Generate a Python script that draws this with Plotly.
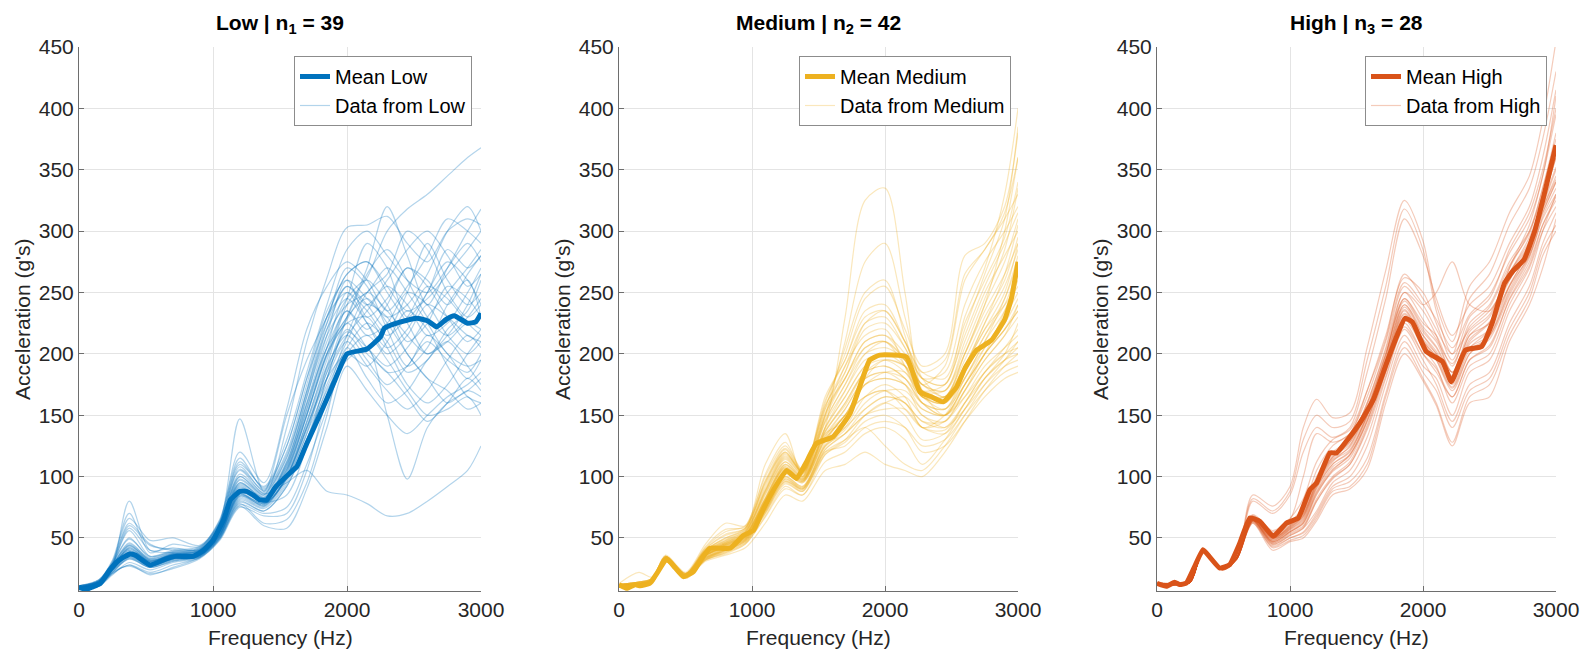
import plotly.graph_objects as go

# ---------------- Low group (n1 = 39) ----------------
low_freq = [0, 150, 250, 375, 530, 700, 900, 1050, 1200, 1380, 1550,
            1700, 1850, 2000, 2150, 2300, 2450, 2600, 2750, 2900, 3000]
low_curves = [
    [9, 13, 24, 36, 27, 33, 36, 52, 85, 78, 98, 135, 190, 240, 262, 300, 318, 330, 345, 360, 368],
    [10, 14, 28, 58, 40, 38, 40, 60, 100, 85, 140, 210, 262, 303, 305, 312, 290, 275, 300, 310, 305],
    [8, 12, 22, 34, 26, 31, 35, 50, 80, 72, 92, 130, 180, 230, 270, 320, 280, 240, 270, 300, 318],
    [11, 15, 30, 62, 45, 40, 42, 65, 115, 90, 125, 180, 225, 255, 240, 220, 250, 290, 260, 240, 250],
    [9, 12, 25, 40, 30, 35, 38, 55, 90, 80, 105, 150, 200, 245, 290, 270, 230, 250, 285, 270, 280],
    [10, 13, 27, 80, 40, 42, 40, 58, 95, 82, 110, 155, 205, 250, 225, 200, 215, 240, 230, 215, 210],
    [8, 11, 20, 30, 24, 30, 34, 48, 75, 68, 70, 105, 165, 215, 250, 265, 300, 285, 250, 230, 240],
    [10, 16, 32, 70, 38, 45, 43, 62, 147, 88, 150, 195, 230, 265, 275, 250, 225, 200, 215, 240, 265],
    [9, 12, 24, 35, 28, 34, 36, 53, 86, 76, 100, 140, 185, 225, 205, 185, 190, 215, 200, 180, 195],
    [11, 15, 29, 56, 35, 39, 41, 63, 110, 92, 130, 185, 240, 285, 300, 280, 260, 250, 270, 290, 275],
    [8, 11, 21, 28, 20, 26, 34, 50, 78, 62, 65, 95, 150, 205, 180, 160, 170, 195, 210, 190, 175],
    [10, 14, 26, 42, 31, 37, 39, 57, 94, 83, 108, 160, 215, 260, 245, 230, 240, 265, 300, 320, 300],
    [9, 13, 25, 38, 29, 34, 37, 54, 88, 79, 102, 145, 195, 235, 220, 240, 270, 255, 230, 210, 220],
    [10, 15, 28, 44, 32, 36, 40, 60, 105, 86, 95, 105, 88, 85, 78, 68, 70, 80, 92, 105, 125],
    [8, 12, 23, 33, 26, 32, 35, 51, 82, 75, 96, 135, 175, 210, 240, 230, 200, 180, 160, 170, 165],
    [11, 16, 31, 66, 48, 50, 44, 64, 120, 95, 155, 220, 255, 275, 260, 235, 255, 280, 310, 300, 290],
    [9, 12, 24, 36, 28, 33, 36, 52, 84, 77, 100, 140, 180, 200, 190, 210, 235, 220, 190, 165, 160],
    [10, 14, 27, 41, 31, 36, 39, 57, 92, 80, 112, 160, 205, 230, 265, 285, 260, 230, 215, 230, 245],
    [8, 11, 22, 27, 21, 25, 33, 49, 76, 60, 58, 90, 140, 190, 170, 150, 135, 150, 165, 175, 185],
    [10, 15, 29, 50, 34, 39, 41, 61, 108, 88, 118, 170, 225, 270, 255, 220, 190, 205, 240, 260, 230],
    [9, 13, 25, 39, 29, 35, 37, 55, 89, 80, 104, 150, 200, 225, 230, 205, 175, 160, 175, 200, 215],
    [10, 14, 26, 43, 32, 37, 39, 58, 97, 84, 110, 165, 220, 255, 240, 260, 285, 300, 280, 255, 265],
    [9, 12, 23, 34, 27, 32, 35, 51, 81, 74, 94, 130, 170, 195, 205, 150, 98, 140, 160, 170, 180],
    [11, 16, 30, 60, 44, 41, 43, 63, 112, 91, 125, 180, 235, 260, 230, 245, 270, 260, 240, 265, 280],
    [9, 13, 24, 37, 28, 34, 36, 53, 86, 78, 100, 145, 190, 215, 195, 175, 190, 210, 195, 185, 200],
    [10, 14, 27, 40, 30, 36, 38, 56, 91, 82, 106, 155, 210, 245, 260, 240, 210, 225, 255, 245, 230],
    [8, 11, 21, 28, 22, 28, 34, 49, 77, 70, 75, 110, 155, 200, 215, 195, 170, 150, 155, 165, 150],
    [10, 15, 28, 46, 33, 38, 40, 59, 102, 87, 115, 170, 230, 265, 275, 255, 235, 245, 265, 285, 300],
    [9, 12, 24, 35, 27, 33, 36, 52, 83, 76, 98, 138, 180, 210, 190, 170, 155, 170, 195, 215, 205],
    [10, 14, 26, 42, 31, 37, 39, 57, 95, 83, 108, 158, 205, 235, 215, 225, 250, 240, 215, 200, 210],
    [9, 13, 25, 38, 29, 34, 37, 54, 87, 79, 85, 125, 180, 220, 200, 185, 165, 145, 160, 180, 170],
    [11, 15, 29, 49, 35, 40, 42, 62, 106, 89, 120, 175, 230, 250, 235, 215, 230, 255, 245, 225, 215],
    [8, 12, 22, 33, 26, 31, 35, 50, 79, 72, 92, 128, 172, 205, 225, 210, 185, 195, 220, 235, 260],
    [10, 14, 27, 44, 32, 37, 40, 58, 98, 85, 112, 165, 215, 240, 250, 270, 250, 225, 200, 190, 195],
    [9, 13, 25, 37, 28, 34, 37, 53, 85, 78, 100, 143, 188, 218, 205, 190, 205, 230, 250, 270, 285],
    [10, 14, 26, 41, 31, 36, 38, 56, 93, 81, 106, 152, 200, 230, 245, 225, 200, 180, 170, 155, 160],
    [9, 12, 24, 36, 28, 33, 36, 52, 84, 77, 99, 140, 185, 215, 235, 255, 240, 215, 225, 250, 270],
    [11, 15, 28, 45, 33, 38, 41, 60, 100, 86, 116, 168, 220, 245, 225, 205, 220, 250, 275, 260, 240],
    [9, 13, 25, 39, 29, 35, 37, 54, 88, 80, 103, 150, 198, 228, 250, 235, 215, 200, 210, 225, 220],
]
low_mean_freq = [0, 50, 100, 160, 230, 300, 380, 420, 530, 650, 720, 850, 930, 1000,
                 1080, 1130, 1200, 1250, 1300, 1350, 1400, 1470, 1575, 1625, 1700, 1800,
                 1900, 2000, 2150, 2250, 2280, 2400, 2520, 2600, 2670, 2740, 2800, 2900,
                 2960, 3000]
low_mean = [10, 8, 10, 13, 24, 32, 37, 36, 28, 33, 35, 35, 40, 48,
            65, 81, 88, 88, 85, 81, 81, 92, 103, 108, 127, 151,
            176, 200, 204, 214, 221, 226, 229, 227, 222, 228, 231, 225,
            226, 233]

# ---------------- Medium group (n2 = 42) ----------------
med_freq = [0, 150, 250, 350, 500, 650, 800, 950, 1100, 1250, 1380,
            1550, 1700, 1850, 2000, 2150, 2280, 2450, 2600, 2750, 2900, 3000]
med_curves = [
    [11, 12, 15, 33, 19, 35, 44, 52, 80, 108, 98, 140, 230, 325, 335, 250, 170, 150, 170, 195, 215, 240],
    [12, 13, 16, 34, 20, 38, 47, 55, 88, 115, 102, 150, 210, 275, 290, 230, 180, 165, 200, 240, 300, 360],
    [10, 11, 14, 32, 18, 33, 40, 48, 72, 98, 90, 125, 140, 165, 175, 165, 140, 150, 180, 210, 245, 280],
    [12, 14, 17, 35, 21, 40, 50, 58, 95, 122, 104, 155, 205, 250, 260, 215, 175, 190, 260, 285, 310, 330],
    [11, 12, 15, 33, 19, 36, 42, 50, 76, 102, 95, 130, 150, 175, 185, 185, 165, 155, 175, 200, 220, 235],
    [13, 22, 18, 36, 22, 45, 62, 60, 110, 135, 100, 165, 195, 235, 240, 210, 180, 175, 230, 270, 330, 400],
    [10, 11, 13, 31, 18, 32, 38, 45, 68, 92, 85, 118, 130, 150, 160, 150, 130, 135, 160, 185, 205, 220],
    [11, 12, 15, 33, 19, 37, 45, 53, 82, 110, 100, 140, 170, 200, 210, 195, 165, 165, 195, 230, 260, 295],
    [12, 13, 16, 34, 20, 39, 48, 56, 90, 118, 105, 150, 190, 215, 220, 190, 160, 150, 175, 200, 235, 265],
    [10, 11, 14, 32, 18, 34, 41, 49, 74, 100, 92, 128, 150, 165, 170, 160, 145, 140, 160, 180, 195, 205],
    [11, 13, 16, 33, 19, 36, 44, 52, 82, 108, 97, 135, 145, 180, 195, 190, 165, 165, 190, 220, 250, 290],
    [12, 14, 17, 35, 21, 42, 55, 60, 100, 125, 106, 160, 200, 245, 255, 220, 190, 200, 280, 290, 320, 380],
    [10, 11, 13, 31, 17, 31, 36, 42, 62, 85, 80, 105, 110, 120, 110, 105, 100, 120, 145, 170, 190, 200],
    [11, 12, 15, 33, 19, 36, 43, 51, 78, 104, 96, 132, 155, 180, 185, 175, 150, 145, 170, 195, 215, 230],
    [12, 13, 16, 34, 20, 38, 46, 54, 86, 112, 100, 145, 175, 200, 205, 195, 170, 170, 205, 245, 285, 335],
    [10, 12, 14, 32, 18, 34, 40, 48, 72, 96, 90, 122, 135, 150, 160, 165, 150, 140, 155, 175, 190, 195],
    [11, 12, 15, 33, 19, 36, 44, 52, 80, 106, 98, 136, 160, 185, 190, 180, 160, 150, 175, 205, 230, 250],
    [12, 14, 17, 35, 21, 41, 52, 58, 96, 120, 104, 158, 185, 220, 225, 205, 180, 185, 240, 275, 300, 320],
    [10, 11, 14, 31, 18, 32, 38, 46, 70, 94, 88, 120, 125, 140, 145, 140, 125, 130, 150, 170, 185, 190],
    [11, 13, 15, 33, 19, 37, 45, 53, 83, 110, 99, 140, 165, 190, 200, 195, 170, 160, 185, 215, 240, 270],
    [12, 13, 16, 34, 20, 39, 47, 55, 88, 116, 103, 148, 180, 205, 210, 190, 165, 160, 190, 225, 265, 305],
    [10, 11, 13, 32, 18, 33, 39, 47, 70, 95, 88, 120, 130, 140, 125, 110, 105, 125, 150, 175, 195, 210],
    [11, 12, 15, 33, 19, 35, 42, 50, 77, 103, 95, 130, 150, 175, 180, 175, 160, 155, 180, 205, 225, 245],
    [12, 14, 17, 35, 21, 43, 57, 59, 102, 128, 104, 162, 195, 230, 235, 210, 185, 195, 265, 285, 315, 360],
    [10, 12, 14, 32, 18, 34, 41, 49, 75, 100, 92, 126, 140, 155, 165, 160, 145, 145, 165, 190, 205, 215],
    [11, 12, 15, 33, 19, 36, 43, 51, 79, 105, 97, 134, 155, 180, 185, 180, 165, 160, 180, 210, 235, 260],
    [12, 13, 16, 34, 20, 38, 46, 54, 85, 112, 101, 144, 170, 195, 200, 190, 170, 175, 215, 255, 290, 315],
    [10, 11, 14, 31, 18, 32, 39, 46, 71, 96, 89, 118, 128, 145, 150, 140, 120, 125, 145, 165, 180, 185],
    [11, 13, 15, 33, 19, 37, 45, 52, 81, 107, 98, 137, 160, 185, 190, 180, 160, 155, 185, 215, 245, 275],
    [12, 14, 17, 35, 21, 40, 50, 57, 94, 120, 103, 155, 180, 210, 215, 200, 175, 170, 210, 250, 280, 300],
    [10, 11, 14, 32, 18, 33, 40, 48, 73, 98, 91, 124, 138, 160, 170, 170, 155, 150, 165, 185, 200, 210],
    [11, 12, 15, 33, 19, 36, 43, 51, 79, 104, 96, 133, 150, 165, 170, 155, 140, 145, 170, 200, 220, 240],
    [12, 13, 16, 34, 20, 39, 48, 56, 89, 117, 104, 150, 185, 225, 235, 210, 185, 180, 225, 260, 295, 340],
    [10, 12, 14, 32, 18, 34, 41, 49, 74, 99, 91, 125, 135, 150, 155, 155, 140, 135, 155, 180, 200, 225],
    [11, 12, 15, 33, 19, 36, 44, 52, 81, 107, 97, 137, 158, 185, 195, 190, 175, 165, 190, 220, 240, 255],
    [12, 14, 17, 35, 21, 41, 53, 58, 97, 123, 105, 157, 190, 225, 230, 205, 180, 175, 220, 265, 310, 385],
    [10, 11, 13, 31, 17, 32, 37, 45, 67, 90, 85, 112, 120, 135, 140, 130, 110, 130, 155, 180, 195, 200],
    [11, 13, 15, 33, 19, 37, 45, 53, 82, 109, 99, 139, 165, 190, 195, 185, 165, 160, 190, 225, 255, 285],
    [12, 13, 16, 34, 20, 38, 46, 55, 87, 114, 102, 146, 175, 205, 210, 195, 175, 170, 200, 235, 265, 290],
    [10, 11, 14, 32, 18, 33, 40, 47, 72, 97, 90, 122, 135, 155, 165, 160, 140, 138, 160, 185, 200, 205],
    [11, 12, 15, 33, 19, 35, 42, 50, 78, 104, 96, 131, 150, 175, 180, 175, 155, 150, 175, 200, 220, 235],
    [12, 14, 16, 34, 20, 40, 49, 57, 92, 119, 103, 152, 180, 210, 215, 195, 170, 165, 200, 240, 275, 310],
]
med_mean_freq = [0, 60, 120, 160, 230, 290, 358, 420, 484, 560, 620, 684, 835, 935,
                 1010, 1070, 1135, 1200, 1260, 1335, 1400, 1485, 1610, 1735, 1800, 1885,
                 1960, 2160, 2263, 2350, 2437, 2538, 2600, 2688, 2800, 2900, 2950, 3000]
med_mean = [12, 9, 12, 11, 13, 22, 33, 26, 18.5, 22.6, 33, 41.6, 41.6, 52,
            56, 70, 84, 96, 105, 98.5, 110, 127, 132.5, 151, 170, 195,
            199, 197.6, 169, 165, 161, 173, 188, 203, 211, 228, 245, 275]

# ---------------- High group (n3 = 28) ----------------
high_freq = [0, 150, 250, 350, 490, 600, 720, 870, 1000, 1100, 1200, 1320, 1450,
             1580, 1720, 1860, 2000, 2100, 2220, 2350, 2500, 2650, 2800, 2900, 3000]
high_curves = [
    [12, 12, 14, 40, 25, 34, 85, 76, 92, 140, 163, 148, 152, 205, 268, 325, 292, 240, 210, 255, 275, 315, 345, 390, 455],
    [13, 13, 15, 41, 26, 35, 82, 72, 88, 130, 150, 140, 145, 195, 255, 318, 285, 235, 200, 245, 265, 305, 335, 375, 430],
    [12, 12, 14, 39, 25, 33, 80, 70, 85, 120, 140, 132, 140, 185, 245, 310, 280, 245, 215, 240, 255, 290, 320, 360, 415],
    [13, 13, 14, 40, 25, 34, 68, 55, 65, 100, 135, 128, 135, 170, 215, 262, 250, 225, 195, 230, 245, 285, 315, 350, 400],
    [12, 12, 14, 39, 24, 33, 66, 52, 62, 72, 100, 120, 130, 160, 205, 255, 240, 250, 275, 240, 235, 270, 300, 335, 380],
    [13, 13, 15, 40, 25, 34, 67, 50, 60, 70, 95, 115, 128, 155, 200, 245, 225, 215, 190, 225, 240, 275, 300, 330, 370],
    [12, 12, 14, 39, 25, 33, 65, 48, 57, 65, 90, 110, 120, 150, 195, 240, 215, 200, 180, 215, 225, 265, 295, 325, 360],
    [13, 13, 14, 40, 25, 34, 66, 50, 58, 67, 92, 112, 125, 155, 198, 250, 235, 215, 185, 205, 220, 270, 305, 345, 395],
    [12, 12, 14, 39, 24, 33, 64, 47, 55, 62, 85, 105, 118, 145, 190, 232, 210, 195, 170, 200, 215, 255, 285, 320, 350],
    [13, 13, 15, 40, 25, 34, 68, 53, 63, 75, 105, 125, 135, 165, 210, 258, 240, 220, 200, 220, 235, 260, 290, 315, 340],
    [12, 12, 14, 39, 25, 33, 65, 49, 58, 68, 93, 113, 122, 150, 192, 236, 212, 200, 178, 210, 225, 255, 280, 310, 330],
    [13, 13, 14, 40, 25, 34, 67, 51, 60, 70, 96, 116, 128, 158, 200, 245, 222, 210, 185, 215, 230, 265, 290, 330, 365],
    [12, 12, 14, 39, 24, 33, 63, 45, 52, 58, 80, 98, 110, 140, 185, 225, 200, 185, 165, 195, 205, 245, 275, 305, 325],
    [13, 13, 15, 40, 25, 34, 66, 50, 59, 68, 94, 114, 124, 152, 196, 240, 218, 205, 182, 212, 226, 260, 287, 318, 345],
    [12, 12, 14, 39, 25, 33, 64, 46, 54, 60, 82, 100, 112, 142, 186, 228, 205, 190, 160, 190, 200, 240, 270, 300, 320],
    [13, 13, 14, 40, 25, 34, 65, 48, 56, 64, 88, 108, 118, 148, 192, 235, 210, 198, 175, 205, 215, 250, 280, 315, 340],
    [12, 12, 14, 39, 24, 33, 62, 43, 50, 55, 70, 92, 100, 125, 175, 215, 190, 180, 150, 185, 195, 235, 265, 300, 330],
    [13, 13, 15, 40, 25, 34, 64, 45, 52, 58, 72, 95, 105, 132, 180, 220, 195, 175, 145, 175, 185, 225, 255, 290, 315],
    [12, 12, 14, 39, 25, 33, 63, 44, 50, 54, 68, 90, 96, 115, 168, 210, 185, 170, 140, 170, 180, 220, 250, 285, 305],
    [13, 13, 14, 40, 25, 34, 63, 42, 48, 52, 66, 88, 92, 110, 165, 205, 180, 160, 128, 165, 175, 215, 245, 280, 300],
    [12, 12, 14, 39, 24, 33, 62, 40, 47, 50, 64, 85, 90, 106, 160, 200, 178, 158, 125, 160, 165, 210, 240, 270, 310],
    [13, 13, 15, 40, 25, 34, 65, 47, 55, 62, 86, 104, 115, 145, 188, 230, 208, 195, 172, 200, 212, 248, 278, 312, 335],
    [12, 12, 14, 39, 25, 33, 64, 46, 53, 59, 80, 99, 110, 138, 182, 222, 200, 188, 165, 195, 207, 244, 272, 305, 328],
    [13, 13, 14, 40, 25, 34, 67, 52, 61, 72, 98, 118, 130, 160, 203, 250, 228, 212, 192, 222, 238, 272, 298, 335, 375],
    [12, 12, 14, 39, 24, 33, 66, 50, 59, 69, 95, 116, 126, 155, 199, 243, 220, 206, 185, 218, 232, 266, 292, 325, 360],
    [13, 13, 15, 40, 25, 34, 69, 56, 66, 82, 112, 130, 138, 170, 212, 265, 245, 228, 205, 232, 248, 282, 310, 345, 410],
    [12, 12, 14, 39, 25, 33, 64, 47, 55, 63, 87, 106, 117, 146, 190, 233, 211, 197, 173, 203, 214, 252, 282, 318, 342],
    [13, 13, 14, 40, 25, 34, 65, 49, 57, 66, 91, 110, 121, 150, 194, 238, 215, 202, 178, 208, 220, 256, 284, 322, 352],
]
high_mean_freq = [0, 70, 133, 171, 221, 280, 346, 400, 472, 547, 620, 698, 773, 874,
                  974, 1062, 1150, 1200, 1300, 1351, 1440, 1526, 1627, 1727, 1803, 1865,
                  1920, 2025, 2147, 2213, 2319, 2441, 2520, 2613, 2680, 2760, 2840, 2907, 3000]
high_mean = [13, 10.6, 13.9, 12, 13.3, 26, 40.5, 34, 25.5, 28.3, 45, 66.3, 63.6, 51.4,
             62.2, 66.3, 89.4, 94.8, 119.3, 119.3, 131, 143.8, 162.8, 192.7, 214.4, 229,
             226, 201.8, 193.7, 177.3, 203, 206, 225, 257.6, 268, 276.7, 300, 328, 370]

groups = ["Low", "Medium", "High"]
counts = ["1</sub> = 39", "2</sub> = 42", "3</sub> = 28"]
rgb = [(0, 114, 189), (237, 177, 32), (217, 83, 25)]

FONT = "Liberation Sans, Arial, Helvetica, sans-serif"
TXT = "#262626"
W, H = 1593, 653

# plot-area pixel boxes
x_px = [(79, 481), (619, 1018), (1157, 1556)]
y_px = (47, 591)

fig = go.Figure()

panels = [
    (low_freq, low_curves, low_mean_freq, low_mean),
    (med_freq, med_curves, med_mean_freq, med_mean),
    (high_freq, high_curves, high_mean_freq, high_mean),
]

for i, (fq, curves, mfq, mv) in enumerate(panels):
    r, g, b = rgb[i]
    xa = "x" if i == 0 else f"x{i + 1}"
    ya = "y" if i == 0 else f"y{i + 1}"
    lg = "legend" if i == 0 else f"legend{i + 1}"
    for k, c in enumerate(curves):
        fig.add_trace(go.Scatter(
            x=fq, y=c, mode="lines", xaxis=xa, yaxis=ya,
            line=dict(color=f"rgba({r},{g},{b},0.3)", width=1.2, shape="spline", smoothing=0.85),
            name=f"Data from {groups[i]}", showlegend=(k == 0), legend=lg, legendrank=2,
            hoverinfo="skip"))
    fig.add_trace(go.Scatter(
        x=mfq, y=mv, mode="lines", xaxis=xa, yaxis=ya,
        line=dict(color=f"rgb({r},{g},{b})", width=5, shape="spline", smoothing=0.4),
        name=f"Mean {groups[i]}", legend=lg, legendrank=1))

layout = dict(
    width=W, height=H,
    margin=dict(l=0, r=0, t=0, b=0, autoexpand=False),
    paper_bgcolor="white", plot_bgcolor="white",
    font=dict(family=FONT, size=21, color=TXT),
    annotations=[],
)

for i in range(3):
    x0, x1 = x_px[i]
    xd = [x0 / W, x1 / W]
    yd = [1 - y_px[1] / H, 1 - y_px[0] / H]
    sfx = "" if i == 0 else str(i + 1)
    layout[f"xaxis{sfx}"] = dict(
        domain=xd, range=[0, 3000], tickvals=[0, 1000, 2000, 3000],
        showgrid=True, gridcolor="#e4e4e4", gridwidth=1,
        showline=True, linecolor="#6e6e6e", linewidth=1,
        ticks="inside", ticklen=5, tickcolor="#6e6e6e",
        zeroline=False, anchor=f"y{sfx}", tickfont=dict(size=21, color=TXT),
        fixedrange=True)
    layout[f"yaxis{sfx}"] = dict(
        domain=yd, range=[6.8, 450], tickvals=[50, 100, 150, 200, 250, 300, 350, 400, 450],
        showgrid=True, gridcolor="#e4e4e4", gridwidth=1,
        showline=True, linecolor="#6e6e6e", linewidth=1,
        ticks="inside", ticklen=5, tickcolor="#6e6e6e",
        zeroline=False, anchor=f"x{sfx}", tickfont=dict(size=21, color=TXT),
        fixedrange=True)
    lg = "legend" if i == 0 else f"legend{i + 1}"
    right_px = [472, 1011, 1547][i]
    layout[lg] = dict(
        x=right_px / W, y=1 - 56 / H, xanchor="right", yanchor="top",
        bgcolor="white", bordercolor="#8c8c8c", borderwidth=1,
        font=dict(size=20, color="#000000"), tracegroupgap=0,
        itemwidth=30, traceorder="normal")
    cx = (x0 + x1) / 2 / W
    layout["annotations"] += [
        dict(text=f"<b>{groups[i]} | n<sub>{counts[i]}</b>", x=cx, y=1 - 24 / H,
             xref="paper", yref="paper", xanchor="center", yanchor="middle",
             showarrow=False, font=dict(size=21, color="#000000")),
        dict(text="Frequency (Hz)", x=cx, y=1 - 637 / H, xref="paper", yref="paper",
             xanchor="center", yanchor="middle", showarrow=False,
             font=dict(size=21, color=TXT)),
        dict(text="Acceleration (g's)", x=[22, 562, 1100][i] / W, y=1 - 319 / H,
             xref="paper", yref="paper", xanchor="center", yanchor="middle",
             textangle=-90, showarrow=False, font=dict(size=21, color=TXT)),
    ]

fig.update_layout(**layout)
fig.write_html("out.html")
